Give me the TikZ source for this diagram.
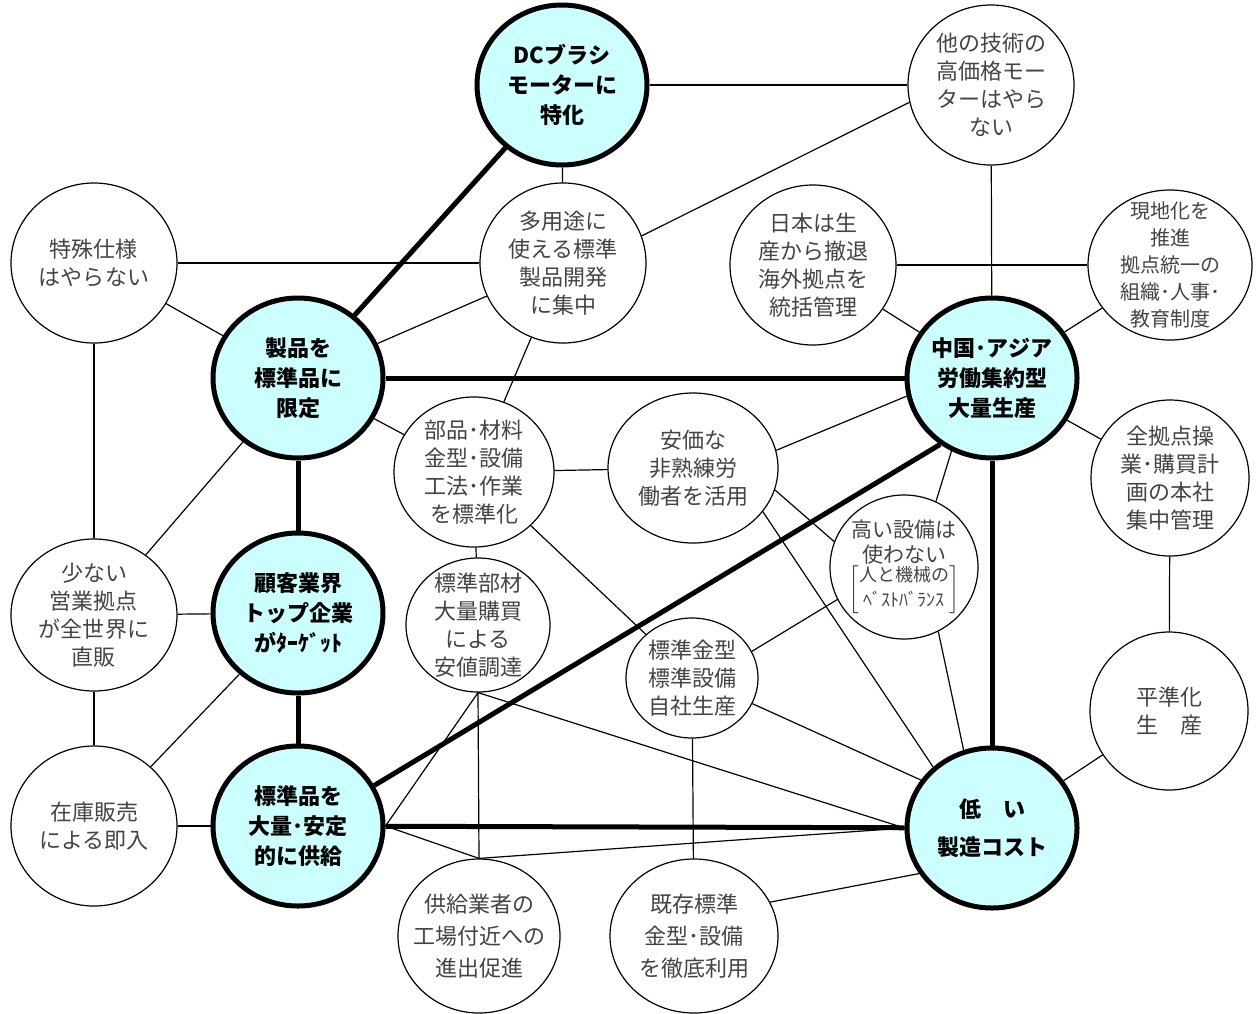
\documentclass[tikz,border=0pt]{standalone}
\usepackage{fontspec}
\newfontfamily\jp{Noto Sans CJK JP}
\usetikzlibrary{shapes.geometric}
\definecolor{corefill}{HTML}{CCFFFF}
\definecolor{subtext}{HTML}{444444}

\begin{document}
\begin{tikzpicture}[x=0.5pt,y=-0.5pt,
    core/.style={ellipse,draw,line width=2.5pt,fill=corefill,inner sep=-20pt,
        minimum width=85pt,minimum height=80pt,align=center,
        font=\jp\bfseries\fontsize{11}{15}\selectfont},
    sub/.style={ellipse,draw,line width=0.6pt,fill=white,inner sep=-20pt,
        minimum width=83pt,minimum height=80pt,align=center,text=subtext,
        font=\jp\fontsize{11}{14}\selectfont},
    strong/.style={line width=2.5pt},
    weak/.style={line width=0.6pt}]
    \useasboundingbox (0,0) rectangle (1257,1013);

    \node[core] (dc) at (562,85) {DCブラシ\\モーターに\\特化};
    \node[sub] (tech) at (991,85) {他の技術の\\高価格モー\\ターはやら\\ない};
    \node[sub] (multi) at (563,263) {多用途に\\使える標準\\製品開発\\に集中};
    \node[sub] (spec) at (94,263) {特殊仕様\\はやらない};
    \node[sub] (japan) at (813,265) {日本は生\\産から撤退\\海外拠点を\\統括管理};
    \node[sub,minimum width=82pt,minimum height=75pt,
        font=\jp\fontsize{10}{13.5}\selectfont] (local) at (1170,265)
        {現地化を\\推進\\拠点統一の\\組織･人事･\\教育制度};

    \node[core] (prod) at (298,378) {製品を\\標準品に\\限定};
    \node[core] (china) at (992,378) {中国･アジア\\労働集約型\\大量生産};
    \node[sub,minimum width=80pt,minimum height=75pt] (parts) at (474,472)
        {部品･材料\\金型･設備\\工法･作業\\を標準化};
    \node[sub,minimum width=85pt,minimum height=75pt] (cheap) at (693,468)
        {安価な\\非熟練労\\働者を活用};
    \node[sub,minimum width=79pt,minimum height=78pt] (plan) at (1170,478)
        {全拠点操\\業･購買計\\画の本社\\集中管理};
    \node[sub,minimum width=74pt,minimum height=72pt,
        font=\jp\fontsize{10.5}{12.5}\selectfont] (nomach) at (904,567)
        {高い設備は\\使わない\\[-1pt]$\left[\begin{tabular}{@{}c@{}}%
        \fontsize{9}{11}\selectfont 人と機械の\\
        \fontsize{9}{11}\selectfont ﾍﾞｽﾄﾊﾞﾗﾝｽ\end{tabular}\right]$};

    \node[core] (target) at (298,613) {顧客業界\\トップ企業\\がﾀｰｹﾞｯﾄ};
    \node[sub,minimum height=76pt] (few) at (94,615) {少ない\\営業拠点\\が全世界に\\直販};
    \node[sub,minimum width=72pt,minimum height=67pt] (bulk) at (478,625)
        {標準部材\\大量購買\\による\\安値調達};
    \node[sub,minimum width=66pt,minimum height=60pt] (mold) at (692,678)
        {標準金型\\標準設備\\自社生産};
    \node[sub,minimum width=79pt,minimum height=79pt] (level) at (1169,711) {平準化\\生　産};

    \node[core] (supply) at (298,826) {標準品を\\大量･安定\\的に供給};
    \node[core] (cost) at (992,828) {低　い\\[4pt]製造コスト};
    \node[sub] (stock) at (94,826) {在庫販売\\による即入};
    \node[sub,minimum width=81pt,minimum height=77pt,
        font=\jp\fontsize{11}{16}\selectfont] (vendor) at (479,936)
        {供給業者の\\工場付近への\\進出促進};
    \node[sub,minimum width=84pt,minimum height=77pt,
        font=\jp\fontsize{11}{16}\selectfont] (reuse) at (694,936)
        {既存標準\\金型･設備\\を徹底利用};

    \draw[strong] (dc) -- (prod);
    \draw[strong] (prod) -- (china);
    \draw[strong] (prod) -- (target);
    \draw[strong] (target) -- (supply);
    \draw[strong] (supply.28) -- (china.-128);
    \draw[strong] (supply) -- (cost);
    \draw[strong] (china) -- (cost);

    \draw[weak] (dc) -- (tech);
    \draw[weak] (dc) -- (multi);
    \draw[weak] (multi.19) -- (tech.-168);
    \draw[weak] (spec) -- (multi);
    \draw[weak] (spec) -- (prod);
    \draw[weak] (spec) -- (few);
    \draw[weak] (multi) -- (prod);
    \draw[weak] (multi) -- (parts);
    \draw[weak] (japan) -- (local);
    \draw[weak] (japan) -- (china);
    \draw[weak] (tech) -- (china);
    \draw[weak] (local) -- (china);
    \draw[weak] (prod) -- (parts);
    \draw[weak] (parts) -- (cheap);
    \draw[weak] (parts) -- (bulk);
    \draw[weak] (parts) -- (mold);
    \draw[weak] (cheap.12) -- (china.-168);
    \draw[weak] (cheap.-15) -- (nomach.160);
    \draw[weak] (cheap.-32) -- (cost.134);
    \draw[weak] (nomach.64) -- (china.-119);
    \draw[weak] (nomach.-62) -- (cost.110);
    \draw[weak] (mold.24) -- (nomach.-154);
    \draw[weak] (mold.-23) -- (cost.146);
    \draw[weak] (mold) -- (reuse);
    \draw[weak] (bulk.south) -- (cost.west);
    \draw[weak] (bulk.south) -- (supply.east);
    \draw[weak] (bulk.south) -- (vendor.north);
    \draw[weak] (supply.east) -- (vendor.north);
    \draw[weak] (vendor.north) -- (cost.west);
    \draw[weak] (reuse.24) -- (cost.-148);
    \draw[weak] (cost) -- (level);
    \draw[weak] (china) -- (plan);
    \draw[weak] (plan) -- (level);
    \draw[weak] (few) -- (target);
    \draw[weak] (few) -- (prod);
    \draw[weak] (few) -- (stock);
    \draw[weak] (stock) -- (target);
    \draw[weak] (stock) -- (supply);
\end{tikzpicture}
\end{document}
